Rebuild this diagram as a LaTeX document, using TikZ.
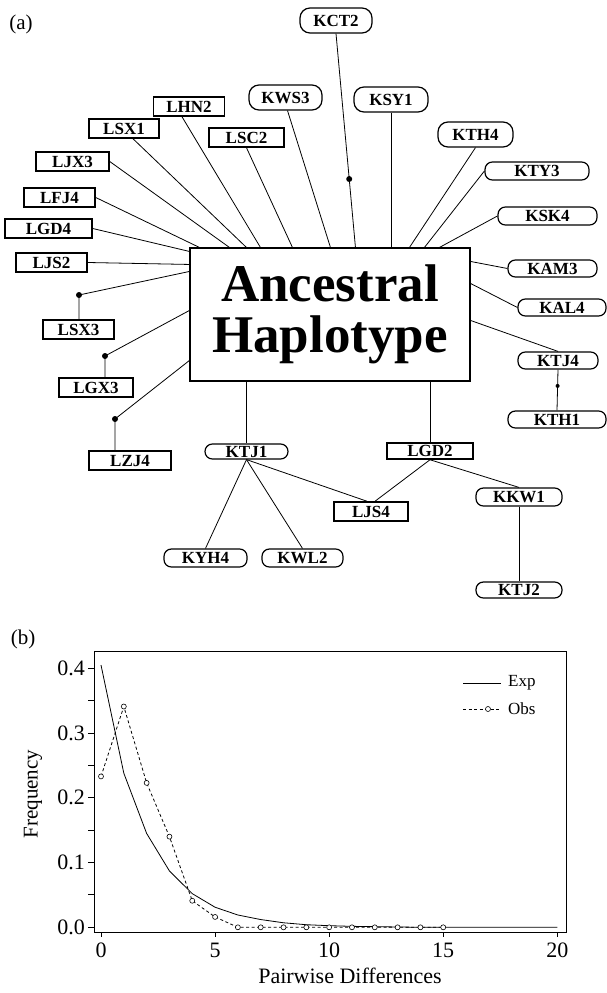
\documentclass[tikz,border=0pt]{standalone}
\usepackage{fontspec}
\setmainfont{Liberation Serif}
\usetikzlibrary{calc}
\tikzset{
  lbox/.style={draw, rectangle, line width=1.5pt, inner sep=0pt, font=\bfseries\fontsize{17}{17}\selectfont},
  kbox/.style={draw, rectangle, rounded corners=7.4pt, line width=1.2pt, inner sep=0pt, font=\bfseries\fontsize{17}{17}\selectfont},
  tallk/.style={kbox, rounded corners=10pt},
  link/.style={line width=0.8pt},
  dotm/.style={circle, fill, inner sep=0pt, minimum size=6pt},
  smalldot/.style={circle, fill, inner sep=0pt, minimum size=4pt},
  ticklab/.style={font=\fontsize{22}{22}\selectfont, inner sep=0pt},
  obsmark/.style={circle, draw, fill=white, line width=0.6pt, inner sep=0pt, minimum size=5pt},
  frame/.style={line width=0.9pt}
}
\newcommand{\nb}[5]{\node[#1, minimum width=#4pt, minimum height=#5pt] (#2) at #3 {#2};}
\begin{document}
\begin{tikzpicture}[x=1pt,y=-1pt]
\useasboundingbox (0,0) rectangle (607,993);
\node[font=\fontsize{21}{21}\selectfont, inner sep=0pt] (labA) at (21,24) {(a)};
\node[draw, rectangle, line width=1.1pt, minimum width=280pt, minimum height=133pt, inner sep=0pt,
      align=center, font=\bfseries\fontsize{53}{51}\selectfont] (main) at (330,314.5) {Ancestral\\Haplotype};
% left rectangles
\nb{lbox}{LHN2}{(189,106.5)}{71}{19}
\nb{lbox}{LSX1}{(124,128.5)}{70}{19}
\nb{lbox}{LSC2}{(246.5,137.5)}{75}{19}
\nb{lbox}{LJX3}{(72.5,161.5)}{73}{19}
\nb{lbox}{LFJ4}{(59.5,197.5)}{71}{19}
\nb{lbox}{LGD4}{(48.5,228.5)}{87}{19}
\nb{lbox}{LJS2}{(51.5,262.5)}{71}{19}
\nb{lbox}{LSX3}{(78.5,329.5)}{71}{19}
\nb{lbox}{LGX3}{(96,387.5)}{74}{19}
\nb{lbox}{LZJ4}{(130,460.5)}{82}{19}
\nb{lbox}{LGD2}{(430,451)}{86}{16}
\nb{lbox}{LJS4}{(371,511.5)}{74}{19}
% rounded boxes
\nb{tallk}{KCT2}{(336,20.5)}{72}{25}
\nb{tallk}{KWS3}{(285.5,97.5)}{73}{25}
\nb{tallk}{KSY1}{(391,99.5)}{74}{25}
\nb{tallk}{KTH4}{(475.5,134.5)}{75}{25}
\nb{kbox}{KTY3}{(537,171)}{104}{18}
\nb{kbox}{KSK4}{(547.5,216)}{99}{18}
\nb{kbox}{KAM3}{(552.5,268.5)}{89}{17}
\nb{kbox}{KAL4}{(562,307.5)}{88}{17}
\nb{kbox}{KTJ4}{(558,360.5)}{80}{17}
\nb{kbox}{KTH1}{(557,419.5)}{98}{17}
\nb{kbox}{KTJ1}{(246.5,451.5)}{83}{15}
\nb{kbox}{KYH4}{(205.5,558)}{83}{18}
\nb{kbox}{KWL2}{(302.5,558)}{81}{18}
\nb{kbox}{KKW1}{(519,497)}{86}{18}
\nb{kbox}{KTJ2}{(519,590)}{86}{16}
% fan connectors to main box
\draw[link] ($(LHN2.south)+(-7,0)$) -- ($(main.north west)+(71,0)$);
\draw[link] ($(LSX1.south)+(9,0)$) -- ($(main.north west)+(57,0)$);
\draw[link] (LSC2.south) -- ($(main.north west)+(103,0)$);
\draw[link] (LJX3.east) -- ($(main.north west)+(40,0)$);
\draw[link] (LFJ4.east) -- ($(main.north west)+(10,0)$);
\draw[link] (LGD4.east) -- ($(main.north west)+(0,4)$);
\draw[link] (LJS2.east) -- ($(main.north west)+(0,17)$);
\coordinate (d1) at (79,295);
\coordinate (d2) at (105,356);
\coordinate (d3) at (115,419);
\draw[link] ($(main.north west)+(0,24)$) -- (d1) -- (d1 |- LSX3.north);
\draw[link] ($(main.north west)+(0,63)$) -- (d2) -- (d2 |- LGX3.north);
\draw[link] ($(main.north west)+(0,113)$) -- (d3) -- (d3 |- LZJ4.north);
\node[dotm] (dot1) at (d1) {};
\node[dotm] (dot2) at (d2) {};
\node[dotm] (dot3) at (d3) {};
\draw[link] ($(KWS3.south)+(2,0)$) -- ($(main.north west)+(141,0)$);
\draw[link] (KCT2.south) -- node[dotm, pos=0.68] (dot4) {} ($(main.north west)+(166,0)$);
\draw[link] (KSY1.south) -- (KSY1.south |- main.north);
\draw[link] (KTH4.south) -- ($(main.north west)+(220,0)$);
\draw[link] (KTY3.west) -- ($(main.north west)+(235,0)$);
\draw[link] (KSK4.west) -- ($(main.north west)+(250,0)$);
\draw[link] ($(main.north east)+(0,14)$) -- (KAM3.west);
\draw[link] ($(main.north east)+(0,36)$) -- (KAL4.west);
\draw[link] ($(main.north east)+(0,73)$) -- (KTJ4.north);
\draw[link] (KTJ4.south) -- node[smalldot, pos=0.4] (dot5) {} (KTH1.north);
% lower part
\draw[link] (KTJ1.north |- main.south) -- (KTJ1.north);
\draw[link] (LGD2.north |- main.south) -- (LGD2.north);
\draw[link] (KTJ1.south) -- (KYH4.north);
\draw[link] (KTJ1.south) -- (KWL2.north);
\draw[link] (KTJ1.south) -- ($(LJS4.north)+(-4,0)$);
\draw[link] (LGD2.south) -- ($(LJS4.north)+(4,0)$);
\draw[link] (LGD2.south) -- (KKW1.north);
\draw[link] (KKW1.south) -- (KTJ2.north);
% ---------- plot (b) ----------
\node[font=\fontsize{21}{21}\selectfont, inner sep=0pt] (labB) at (23,639) {(b)};
\draw[frame] (94,651) rectangle (566,932);
\foreach \v/\t in {0/0.0,0.1/0.1,0.2/0.2,0.3/0.3,0.4/0.4} {
  \draw[frame] (88,927.3-647.5*\v) -- (94,927.3-647.5*\v);
  \node[ticklab, anchor=east] at (85,927.3-647.5*\v) {\t};
}
\foreach \v in {0.05,0.15,0.25,0.35} {
  \draw[frame] (88,927.3-647.5*\v) -- (94,927.3-647.5*\v);
}
\foreach \v in {0,5,10,15,20} {
  \draw[frame] (101+22.815*\v,932) -- (101+22.815*\v,937);
  \node[ticklab] at (101+22.815*\v,950) {\v};
}
\node[font=\fontsize{21}{21}\selectfont, rotate=90, inner sep=0pt] (ylab) at (33,794) {Frequency};
\node[font=\fontsize{22}{22}\selectfont, inner sep=0pt] (xlab) at (350,976) {Pairwise Differences};
\begin{scope}[shift={(101,927.3)}, x=22.815pt, y=647.5pt]
  \draw[line width=0.8pt] (0,0.405) -- (1,0.238) -- (2,0.145) -- (3,0.087) -- (4,0.052) -- (5,0.031)
     -- (6,0.019) -- (7,0.012) -- (8,0.007) -- (9,0.004) -- (10,0.0025) -- (11,0.0015) -- (12,0.001)
     -- (13,0.0005) -- (14,0) -- (20,0);
  \draw[line width=0.8pt, dash pattern=on 3pt off 2.5pt] (0,0.233) -- (1,0.341) -- (2,0.223) -- (3,0.140)
     -- (4,0.041) -- (5,0.016) -- (6,0) -- (15,0);
  \foreach \xx/\yy in {0/0.233,1/0.341,2/0.223,3/0.140,4/0.041,5/0.016,6/0,7/0,8/0,9/0,10/0,11/0,12/0,13/0,14/0,15/0}
    \node[obsmark] at (\xx,\yy) {};
\end{scope}
% legend
\draw[line width=0.8pt] (463,683) -- (501,683);
\node[font=\fontsize{17}{17}\selectfont, anchor=west, inner sep=0pt] (legE) at (508,683) {Exp};
\draw[line width=0.8pt, dash pattern=on 3pt off 2.5pt] (463,709) -- (501,709);
\node[obsmark] (legO) at (488,709) {};
\node[font=\fontsize{17}{17}\selectfont, anchor=west, inner sep=0pt] (legT) at (508,709) {Obs};
\end{tikzpicture}
\end{document}
